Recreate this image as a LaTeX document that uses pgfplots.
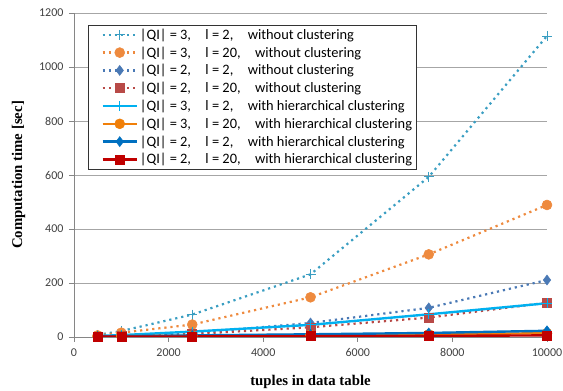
\documentclass[border=0pt]{standalone}
\usepackage{pgfplots}
\pgfplotsset{compat=1.18}
\usepackage{fontspec}
\setmainfont{Carlito}
\newfontfamily\serifb{Liberation Serif}
\definecolor{sA}{HTML}{3A9EC2}
\definecolor{sB}{HTML}{EE8A3E}
\definecolor{sC}{HTML}{4A79B5}
\definecolor{sD}{HTML}{B84A47}
\definecolor{sE}{HTML}{00B0F0}
\definecolor{sF}{HTML}{F07F09}
\definecolor{sG}{HTML}{0070C0}
\definecolor{sH}{HTML}{C00000}
\definecolor{gridc}{HTML}{A6A6A6}
\definecolor{axc}{HTML}{868686}
\pgfplotsset{
  dotline/.style={line width=2.2pt, dash pattern=on 2.2pt off 3.9pt, line cap=butt},
}
\begin{document}
\begin{tikzpicture}
\begin{axis}[
  name=ax,
  scale only axis, width=473pt, height=324pt,
  xmin=0, xmax=10000, ymin=0, ymax=1200,
  xtick={0,2000,4000,6000,8000,10000},
  ytick={0,200,400,600,800,1000,1200},
  axis x line*=bottom, axis y line*=left,
  axis line style={axc, line width=0.8pt},
  tick style={axc, line width=0.8pt}, tick align=outside, major tick length=5pt,
  ymajorgrids, grid style={gridc, line width=0.9pt},
  scaled x ticks=false,
  /pgf/number format/assume math mode=true,
  /pgf/number format/1000 sep={},
  ticklabel style={font=\fontsize{12}{14}\selectfont, text=black!75},
  xticklabel style={yshift=-3pt},
  yticklabel style={xshift=-2pt},
  xlabel={\serifb\bfseries tuples in data table},
  ylabel={\serifb\bfseries Computation time [sec]},
  label style={font=\fontsize{14.8}{16}\selectfont},
  xlabel style={at={(axis description cs:0.5,-0.138)}, anchor=center},
  ylabel style={at={(axis description cs:-0.117,0.5)}, anchor=center},
  legend style={at={(0.03,0.963)}, anchor=north west, draw=black!80, line width=0.7pt,
    font=\fontsize{14.4}{16}\selectfont, row sep=1.9pt, inner xsep=2pt, inner ysep=1.5pt},
  legend cell align=left,
  legend image code/.code={\path (0pt,0pt); \draw[mark repeat=2,mark phase=2] plot coordinates {(11pt,0pt) (28pt,0pt) (45pt,0pt)};},
]
\addplot[sA, dotline, mark=+, mark size=5pt, mark options={solid, line width=0.8pt}]
  coordinates {(500,8) (1000,22) (2500,83) (5000,232) (7500,593) (10000,1115)};
\addlegendentry{|QI| = 3,\quad l = 2,\quad without clustering}
\addplot[sB, dotline, mark=*, mark size=5pt, mark options={solid, line width=0.5pt}]
  coordinates {(500,6) (1000,16) (2500,46) (5000,147) (7500,306) (10000,489)};
\addlegendentry{|QI| = 3,\quad l = 20,\quad without clustering}
\addplot[sC, dotline, mark=diamond*, mark size=5pt, mark options={solid, line width=0.5pt}]
  coordinates {(500,3) (1000,5) (2500,14) (5000,52) (7500,108) (10000,211)};
\addlegendentry{|QI| = 2,\quad l = 2,\quad without clustering}
\addplot[sD, dotline, mark=square*, mark size=4.5pt, mark options={solid, line width=0.5pt}]
  coordinates {(500,2) (1000,4) (2500,11) (5000,36) (7500,72) (10000,127)};
\addlegendentry{|QI| = 2,\quad l = 20,\quad without clustering}
\addplot[sE, line width=2.4pt, mark=+, mark size=5pt, mark options={line width=0.8pt}]
  coordinates {(500,4) (1000,7) (2500,20) (5000,45) (7500,84) (10000,125)};
\addlegendentry{|QI| = 3,\quad l = 2,\quad with hierarchical clustering}
\addplot[sF, line width=2.4pt, mark=*, mark size=5pt, mark options={line width=0.5pt}]
  coordinates {(500,2) (1000,3) (2500,5) (5000,8) (7500,10) (10000,14)};
\addlegendentry{|QI| = 3,\quad l = 20,\quad with hierarchical clustering}
\addplot[sG, line width=2.4pt, mark=diamond*, mark size=5pt, mark options={line width=0.5pt}]
  coordinates {(500,2) (1000,3) (2500,6) (5000,10) (7500,15) (10000,23)};
\addlegendentry{|QI| = 2,\quad l = 2,\quad with hierarchical clustering}
\addplot[sH, line width=2.4pt, mark=square*, mark size=4.5pt, mark options={line width=0.5pt}]
  coordinates {(500,1) (1000,1.5) (2500,2) (5000,3) (7500,4) (10000,6)};
\addlegendentry{|QI| = 2,\quad l = 20,\quad with hierarchical clustering}
\end{axis}
\path (ax.south west) ++(-74pt,-54pt) coordinate (bbA);
\path (ax.north east) ++(16pt,13pt) coordinate (bbB);
\pgfresetboundingbox
\path[use as bounding box] (bbA) rectangle (bbB);
\end{tikzpicture}
\end{document}
